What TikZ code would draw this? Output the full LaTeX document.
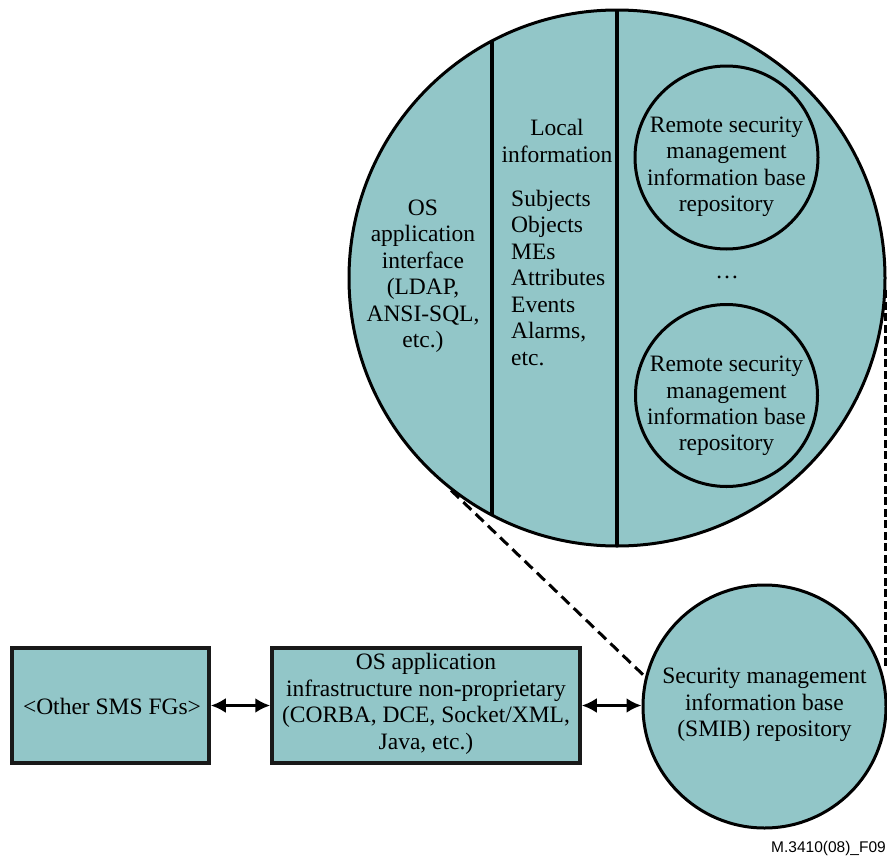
\documentclass[tikz,border=0pt]{standalone}
\usepackage{fontspec}
\setmainfont{Liberation Serif}
\newfontfamily\labelsans{Liberation Sans}
\usetikzlibrary{arrows.meta}
\definecolor{tealfill}{RGB}{146,198,200}
\begin{document}
\begin{tikzpicture}[x=1pt,y=-1pt,
  txt/.style={font=\fontsize{23.5}{26.5}\selectfont, align=center, inner sep=0pt},
  ball/.style={circle, draw=black, fill=tealfill, line width=3pt, inner sep=0pt},
  blk/.style={rectangle, draw=black!90, fill=tealfill, line width=3.5pt, inner sep=0pt},
  divider/.style={line width=3.5pt},
  link/.style={line width=3pt, {Latex[length=15pt,width=15pt]}-{Latex[length=15pt,width=15pt]}},
  zoomline/.style={line width=3pt, dash pattern=on 11pt off 6pt},
  zoomlinethick/.style={line width=4.5pt, dash pattern=on 8pt off 3.5pt}
]
\useasboundingbox (0,0) rectangle (887,857);

% large magnified circle with its three columns
\node[ball, minimum size=536pt] (big) at (617,278) {};
\begin{scope}
  \clip (617,278) circle[radius=268pt];
  \draw[divider] (492,0) -- (492,560);
  \draw[divider] (617,0) -- (617,560);
\end{scope}

\node[txt] (osapi) at (423,276) {OS\\application\\interface\\(LDAP,\\ANSI-SQL,\\etc.)};
\node[txt] (local) at (557,141) {Local\\information};
\node[txt, align=left, anchor=west] (items) at (511,278)
  {Subjects\\Objects\\MEs\\Attributes\\Events\\Alarms,\\etc.};

% remote repositories
\node[ball, minimum size=183pt] (r1) at (726.5,157.5) {};
\node[txt] (r1t) at (726.5,167) {Remote security\\management\\information base\\repository};
\node[txt] (dots) at (727,277) {\dots};
\node[ball, minimum size=182pt] (r2) at (726.5,395.5) {};
\node[txt] (r2t) at (726.5,406) {Remote security\\management\\information base\\repository};

% SMIB repository
\node[ball, minimum size=243pt] (smib) at (764.5,706.5) {};
\node[txt] (smibt) at (764.5,705) {Security management\\information base\\(SMIB) repository};

% functional group boxes
\node[blk, minimum width=197pt, minimum height=115pt] (other) at (110.5,705.5) {};
\node[txt] (othert) at (112,706) {<Other SMS FGs>};
\node[blk, minimum width=308pt, minimum height=115pt] (infra) at (426,705.5) {};
\node[txt] (infrat) at (426,704) {OS application\\infrastructure non-proprietary\\(CORBA, DCE, Socket/XML,\\Java, etc.)};

% connectors
\draw[link] (other.east) -- (infra.west);
\draw[link] (infra.east) -- (infra.east -| smib.west);
\draw[zoomline] (big.232) -- (smib.166);
\draw[zoomlinethick] ([yshift=-12pt]big.east) -- (big.east |- smib.18);

\node[font=\labelsans\fontsize{15.5}{18}\selectfont, anchor=base east, inner sep=0pt] (tag) at (886,852) {M.3410(08)\_F09};
\end{tikzpicture}
\end{document}
